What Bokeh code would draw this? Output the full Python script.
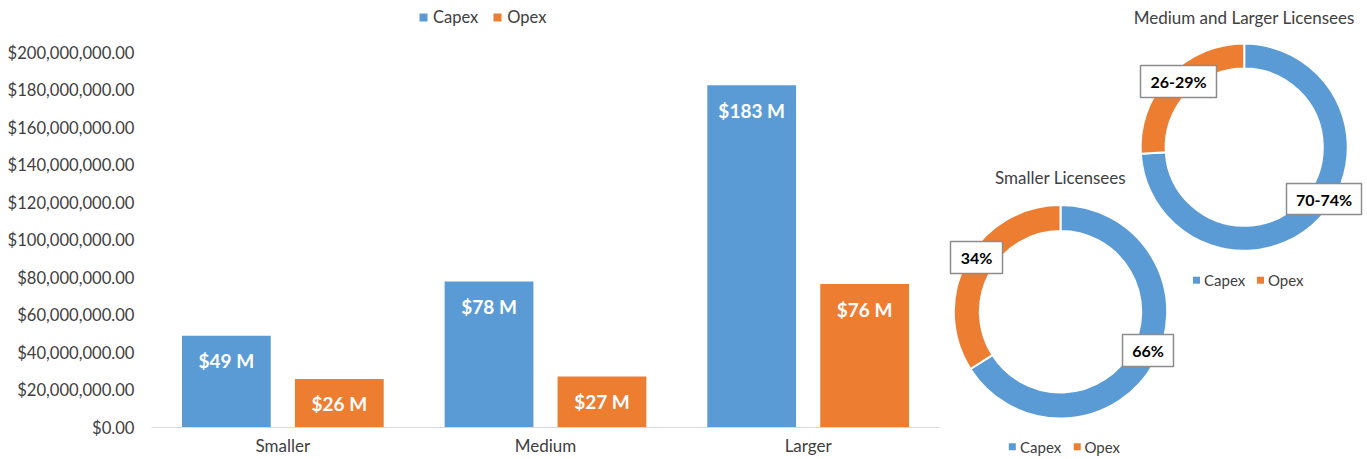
import math
from bokeh.plotting import figure
from bokeh.models import (FactorRange, Range1d, ColumnDataSource, Legend, LegendItem,
                          NumeralTickFormatter, FixedTicker)
from bokeh.transform import dodge
from bokeh.layouts import row
from bokeh.core.properties import value
from bokeh.embed import file_html
from bokeh.resources import INLINE

# ---------------- data ----------------
categories = ["Smaller", "Medium", "Larger"]
capex = [48.9e6, 77.9e6, 182.6e6]
opex = [25.9e6, 27.2e6, 76.5e6]
capex_labels = ["$49 M", "$78 M", "$183 M"]
opex_labels = ["$26 M", "$27 M", "$76 M"]
y_ticks = [0, 20e6, 40e6, 60e6, 80e6, 100e6, 120e6, 140e6, 160e6, 180e6, 200e6]

series = ["Capex", "Opex"]
small_share = [66, 34]
small_labels = ["66%", "34%"]
large_share = [74, 26]
large_labels = ["70-74%", "26-29%"]
small_title = "Smaller Licensees"
large_title = "Medium and Larger Licensees"

BLUE = "#5B9BD5"
ORANGE = "#ED7D31"
TXT = "#404040"
FONT = "Lato"

W, H = 1367, 459          # page size in px
FRAME_BOTTOM = 427        # px from top where the bar baseline sits
LEFT_W = 943

# ---------------- bar chart ----------------
p = figure(width=LEFT_W, height=H, title=None,
           x_range=FactorRange(factors=categories, range_padding=0),
           y_range=Range1d(0, 200e6 * FRAME_BOTTOM / (FRAME_BOTTOM - 52)),
           output_backend="svg", toolbar_location=None,
           min_border_left=151, min_border_right=4, min_border_top=0,
           min_border_bottom=H - FRAME_BOTTOM)
p.outline_line_color = None
p.grid.visible = False

src = ColumnDataSource(dict(cat=categories, capex=capex, opex=opex,
                            capex_lab=capex_labels, opex_lab=opex_labels))
OFF = 0.215
BW = 0.338
r1 = p.vbar(x=dodge("cat", -OFF, range=p.x_range), top="capex", width=BW, source=src,
            fill_color=BLUE, line_color=None)
r2 = p.vbar(x=dodge("cat", OFF, range=p.x_range), top="opex", width=BW, source=src,
            fill_color=ORANGE, line_color=None)
for xoff, col in ((-OFF, "capex"), (OFF, "opex")):
    p.text(x=dodge("cat", xoff, range=p.x_range), y=col, text=col + "_lab", source=src,
           text_align="center", text_baseline="middle", y_offset=25,
           text_color="white", text_font=value(FONT), text_font_style="bold",
           text_font_size="19px")

p.yaxis.ticker = FixedTicker(ticks=y_ticks)
p.yaxis.formatter = NumeralTickFormatter(format="$0,0.00")
p.yaxis.axis_line_color = None
p.yaxis.major_tick_line_color = None
p.yaxis.minor_tick_line_color = None
p.yaxis.major_tick_out = 0
p.yaxis.minor_tick_out = 0
p.yaxis.major_label_standoff = 17
p.yaxis.major_label_text_font = FONT
p.yaxis.major_label_text_font_size = "16.6px"
p.yaxis.major_label_text_color = TXT

p.xaxis.axis_line_color = "#d9d9d9"
p.xaxis.axis_line_width = 1
p.xaxis.major_tick_line_color = None
p.xaxis.minor_tick_line_color = None
p.xaxis.major_tick_out = 0
p.xaxis.minor_tick_out = 0
p.xaxis.major_label_standoff = 7
p.xaxis.major_label_text_font = FONT
p.xaxis.major_label_text_font_size = "17px"
p.xaxis.major_label_text_color = TXT

legend = Legend(items=[LegendItem(label=series[0], renderers=[r1]),
                       LegendItem(label=series[1], renderers=[r2])],
                orientation="horizontal", location=(267, FRAME_BOTTOM - 27),
                glyph_width=10, glyph_height=10, label_standoff=5, spacing=14,
                padding=0, margin=0, border_line_alpha=0, background_fill_alpha=0,
                label_text_font=FONT, label_text_font_size="16.5px",
                label_text_color=TXT, label_height=10)
p.add_layout(legend)

# ---------------- donuts ----------------
# data coordinates of this panel: x = page px, y = H - page px
q = figure(width=W - LEFT_W, height=H, title=None,
           x_range=Range1d(LEFT_W, W), y_range=Range1d(0, H),
           output_backend="svg", toolbar_location=None, min_border=0,
           x_axis_location=None, y_axis_location=None)
q.outline_line_color = None
q.grid.visible = False

for fig in (p, q):
    try:
        fig.frame_align = False
    except AttributeError:
        pass


def donut(cx, cy, r_out, r_in, shares, labels, label_pos, box_sizes, title, title_y,
          leg_y, leg_x):
    total = float(sum(shares))
    starts, ends = [], []
    cum = 0.0
    for s in shares:
        a0 = math.pi / 2 - 2 * math.pi * cum / total
        a1 = math.pi / 2 - 2 * math.pi * (cum + s) / total
        starts.append(a1)
        ends.append(a0)
        cum += s
    dsrc = ColumnDataSource(dict(start=starts, end=ends, color=[BLUE, ORANGE]))
    q.annular_wedge(x=cx, y=H - cy, inner_radius=r_in, outer_radius=r_out,
                    start_angle="start", end_angle="end", direction="anticlock",
                    fill_color="color", line_color="white", line_width=2, source=dsrc)
    lx = [lp[0] for lp in label_pos]
    ly = [H - lp[1] for lp in label_pos]
    q.rect(x=lx, y=ly, width=[b[0] for b in box_sizes], height=[b[1] for b in box_sizes],
           width_units="screen", height_units="screen",
           fill_color="white", line_color="#8c8c8c", line_width=1.5)
    q.text(x=lx, y=ly, text=labels, text_align="center", text_baseline="middle",
           text_color="#000000", text_font=value(FONT), text_font_style="bold",
           text_font_size="16px")
    q.text(x=[cx], y=[H - title_y], text=[title], text_align="center", text_baseline="middle",
           text_color=TXT, text_font=value(FONT), text_font_size="17px")
    q.scatter(x=[leg_x[0], leg_x[2]], y=[H - leg_y] * 2, marker="square", size=7,
              fill_color=[BLUE, ORANGE], line_color=None)
    q.text(x=[leg_x[1], leg_x[3]], y=[H - leg_y] * 2, text=series, text_align="left",
           text_baseline="middle", text_color=TXT, text_font=value(FONT),
           text_font_size="15px")


donut(1243.7, 146.7, 103.6, 78.6, large_share, large_labels,
      [(1323.5, 198.5), (1178, 81)], [(75, 31), (76, 32)],
      large_title, 17, 279.7, (1196, 1203.5, 1260, 1267.5))
donut(1060, 311.3, 106.7, 80.7, small_share, small_labels,
      [(1147.5, 350), (976, 257)], [(51, 32), (52, 32)],
      small_title, 177, 446.3, (1011.8, 1019.5, 1076.7, 1084))

open("out.html", "w").write(file_html(row(p, q), INLINE))
